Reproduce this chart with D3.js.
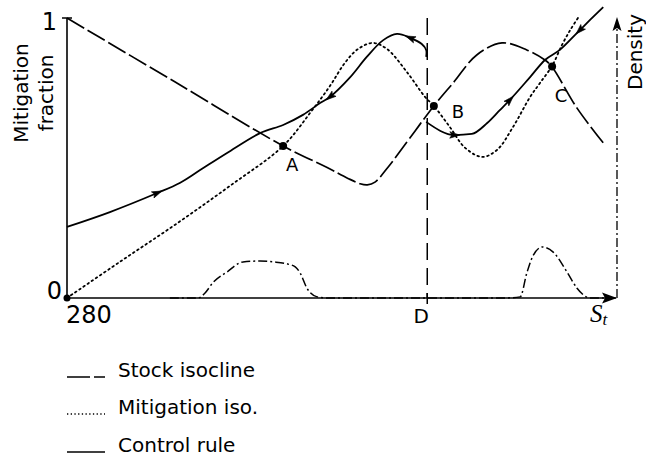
<!DOCTYPE html>
<html>
<head>
<meta charset="utf-8">
<script src="https://cdn.jsdelivr.net/npm/d3@7"></script>
<style>
  html, body { margin: 0; padding: 0; background: #fff; }
  svg { display: block; }
  text { font-family: "DejaVu Sans", sans-serif; fill: #000; }
</style>
</head>
<body>
<svg id="chart" width="646" height="458"></svg>
<script>
// Stock S on a 0–100 index (0 is the 280 origin), mitigation fraction 0–1.
const stockIsocline = [
  [0, 1], [19.6, 0.772], [39.3, 0.543], [47.3, 0.466], [51.0, 0.428],
  [53.3, 0.408], [54.6, 0.404], [56.0, 0.414], [58.4, 0.468], [61.8, 0.557], [64.2, 0.621],
  [66.7, 0.686], [70.2, 0.768], [74.5, 0.868], [79.1, 0.911], [83.6, 0.886],
  [86.9, 0.85], [88.2, 0.825], [92.7, 0.679], [97.5, 0.554]
];
const mitigationIsocline = [
  [0, 0], [9.6, 0.129], [19.6, 0.261], [29.6, 0.4], [39.3, 0.543],
  [44.2, 0.661], [47.8, 0.757], [50.5, 0.839], [52.9, 0.889], [55.6, 0.911],
  [58.2, 0.889], [61.8, 0.807], [65.1, 0.718], [66.7, 0.686], [69.6, 0.611],
  [72.4, 0.536], [75.5, 0.504], [78.2, 0.529], [81.1, 0.611], [84.2, 0.718],
  [86.0, 0.768], [88.2, 0.829], [90.0, 0.904], [91.5, 0.957], [92.9, 1.0]
];
// Control rule, branch below the threshold D
const controlRuleLow = [
  [0, 0.254], [7.8, 0.307], [16.4, 0.375], [20.5, 0.411], [24.2, 0.457],
  [29.1, 0.518], [35.1, 0.589], [39.3, 0.618], [42.9, 0.654], [46.0, 0.696],
  [47.8, 0.718], [51.5, 0.789], [54.5, 0.861], [57.5, 0.921], [60.0, 0.943],
  [62.4, 0.929], [64.5, 0.907], [65.3, 0.886], [65.3, 0.861]
];
// Control rule, branch above the threshold D
const controlRuleHigh = [
  [65.3, 0.629], [70.5, 0.582], [73.6, 0.586], [76.4, 0.625], [78.7, 0.671],
  [80.5, 0.707], [84.2, 0.789], [86.9, 0.85], [89.6, 0.886], [92.7, 0.946],
  [95.1, 0.993], [97.5, 1.039]
];
// Stationary density of S (right-hand axis)
const density = [
  [18.7, 0], [23.8, 0], [25.1, 0.018], [26.5, 0.054], [29.1, 0.093],
  [32.0, 0.129], [35.1, 0.132], [37.5, 0.129], [40.2, 0.121], [41.5, 0.111],
  [42.4, 0.089], [43.6, 0.036], [45.5, 0.004], [47.8, 0], [79.3, 0],
  [82.4, 0.004], [83.6, 0.089], [84.7, 0.15], [86.4, 0.182], [88.4, 0.164],
  [90.9, 0.093], [92.7, 0.036], [95.1, 0], [100, 0]
];
const equilibria = [
  { label: "A", s: 39.3, m: 0.543 },
  { label: "B", s: 66.7, m: 0.686 },
  { label: "C", s: 88.2, m: 0.827 }
];
// Direction of motion along the control rule: branch, S, fraction, +1 forward / -1 backward
const flowArrows = [
  ["low", 16.4, 0.375, 1], ["low", 47.8, 0.718, -1], ["low", 62.4, 0.929, -1],
  ["high", 70.5, 0.582, 1], ["high", 80.5, 0.707, 1], ["high", 93.3, 0.954, -1]
];
const thresholdS = 65.5;
const thresholdLabel = "D";
const yTickValues = [0, 1];
const yTickLabels = ["0", "1"];
const xOriginLabel = "280";
const legendItems = ["Stock isocline", "Mitigation iso.", "Control rule"];

const svg = d3.select("#chart");
const x = d3.scaleLinear().domain([0, 100]).range([67, 617]);
const y = d3.scaleLinear().domain([0, 1]).range([298, 18]);
const yDensity = d3.scaleLinear().domain([0, 1]).range([298, 18]);

const styles = {
  stock: { dash: "20,4", width: 1.7 },
  mitig: { dash: "1.6,3.4", width: 1.8 },
  control: { dash: null, width: 1.8 },
  density: { dash: "9,3,2,3", width: 1.5 }
};

const smooth = d3.line().x(d => x(d[0])).y(d => y(d[1])).curve(d3.curveCatmullRom.alpha(0.5));
const monotone = d3.line().x(d => x(d[0])).y(d => y(d[1])).curve(d3.curveMonotoneX);

// Axes
const ax = svg.append("g").attr("stroke", "#000").attr("fill", "none");
ax.append("line").attr("x1", x(0)).attr("x2", x(0)).attr("y1", y(1)).attr("y2", y(0)).attr("stroke-width", 1.6);
ax.append("line").attr("x1", x(0) - 5).attr("x2", x(0) + 5).attr("y1", y(1)).attr("y2", y(1)).attr("stroke-width", 1.5);
ax.append("line").attr("x1", x(0)).attr("x2", x(100) - 10).attr("y1", y(0)).attr("y2", y(0)).attr("stroke-width", 1.6);
svg.append("path")
  .attr("d", `M${x(100)},${y(0)} L${x(100) - 15},${y(0) - 5.5} L${x(100) - 12},${y(0)} L${x(100) - 15},${y(0) + 5.5} Z`)
  .attr("fill", "#000");
ax.append("line").attr("x1", x(thresholdS)).attr("x2", x(thresholdS)).attr("y1", y(0) - 5).attr("y2", y(0) + 6).attr("stroke-width", 1.5);

// Density axis on the right
ax.append("line").attr("x1", x(100)).attr("x2", x(100)).attr("y1", yDensity(0)).attr("y2", yDensity(1) + 10)
  .attr("stroke-width", 1.3).attr("stroke-dasharray", styles.density.dash);
svg.append("path")
  .attr("d", `M${x(100)},${yDensity(1) - 1} L${x(100) - 4.5},${yDensity(1) + 13} L${x(100)},${yDensity(1) + 10} L${x(100) + 4.5},${yDensity(1) + 13} Z`)
  .attr("fill", "#000");

// Threshold D
svg.append("line").attr("x1", x(thresholdS)).attr("x2", x(thresholdS)).attr("y1", y(1)).attr("y2", y(0))
  .attr("stroke", "#000").attr("stroke-width", 1.5).attr("stroke-dasharray", "17,8");

// Density curve
svg.append("path").datum(density)
  .attr("d", d3.line().x(d => x(d[0])).y(d => yDensity(d[1])).curve(d3.curveMonotoneX))
  .attr("fill", "none").attr("stroke", "#000").attr("stroke-width", styles.density.width)
  .attr("stroke-dasharray", styles.density.dash);

// Isoclines
svg.append("path").datum(stockIsocline).attr("d", smooth)
  .attr("fill", "none").attr("stroke", "#000").attr("stroke-width", styles.stock.width)
  .attr("stroke-dasharray", styles.stock.dash);
svg.append("path").datum(mitigationIsocline).attr("d", smooth)
  .attr("fill", "none").attr("stroke", "#000").attr("stroke-width", styles.mitig.width)
  .attr("stroke-linecap", "round").attr("stroke-dasharray", styles.mitig.dash);

// Control rule branches
const branches = {};
branches.low = svg.append("path").datum(controlRuleLow).attr("d", smooth)
  .attr("fill", "none").attr("stroke", "#000").attr("stroke-width", styles.control.width);
branches.high = svg.append("path").datum(controlRuleHigh).attr("d", monotone)
  .attr("fill", "none").attr("stroke", "#000").attr("stroke-width", styles.control.width);

// Flow arrowheads placed on the control rule, oriented along its tangent
flowArrows.forEach(([b, s, m, dir]) => {
  const node = branches[b].node();
  const total = node.getTotalLength();
  const tx = x(s), ty = y(m);
  let best = 0, bestD = Infinity;
  for (let l = 0; l <= total; l += 0.5) {
    const p = node.getPointAtLength(l);
    const d = (p.x - tx) ** 2 + (p.y - ty) ** 2;
    if (d < bestD) { bestD = d; best = l; }
  }
  const p0 = node.getPointAtLength(Math.max(0, best - 2));
  const p1 = node.getPointAtLength(Math.min(total, best + 2));
  const pc = node.getPointAtLength(best);
  let ang = Math.atan2(p1.y - p0.y, p1.x - p0.x) * 180 / Math.PI;
  if (dir < 0) ang += 180;
  svg.append("path")
    .attr("d", "M5,0 L-5,-3.3 L-3,0 L-5,3.3 Z")
    .attr("transform", `translate(${pc.x},${pc.y}) rotate(${ang})`)
    .attr("fill", "#000").attr("stroke", "#000").attr("stroke-width", 0.6);
});

// Equilibria
svg.selectAll("circle.eq").data(equilibria).join("circle")
  .attr("class", "eq").attr("cx", d => x(d.s)).attr("cy", d => y(d.m)).attr("r", 4).attr("fill", "#000");
svg.append("circle").attr("cx", x(0)).attr("cy", y(0)).attr("r", 3.5).attr("fill", "#000");
const eqOffsets = { A: [9, 25], B: [24, 12], C: [9, 36] };
svg.selectAll("text.eq").data(equilibria).join("text")
  .attr("class", "eq")
  .attr("x", d => x(d.s) + eqOffsets[d.label][0])
  .attr("y", d => y(d.m) + eqOffsets[d.label][1])
  .attr("text-anchor", "middle").attr("font-size", 18).text(d => d.label);

// Tick labels
svg.append("text").attr("x", 57).attr("y", y(yTickValues[1]) + 12).attr("text-anchor", "end")
  .attr("font-size", 24).text(yTickLabels[1]);
svg.append("text").attr("x", 62).attr("y", y(yTickValues[0]) + 1).attr("text-anchor", "end")
  .attr("font-size", 24).text(yTickLabels[0]);
svg.append("text").attr("x", x(0) - 1).attr("y", 323).attr("font-size", 24).text(xOriginLabel);
svg.append("text").attr("x", x(thresholdS) - 6).attr("y", 323).attr("text-anchor", "middle")
  .attr("font-size", 20).text(thresholdLabel);
const st = svg.append("text").attr("x", 590).attr("y", 322)
  .style("font-family", "'Liberation Serif', 'DejaVu Serif', serif").style("font-style", "italic")
  .attr("font-size", 25);
st.append("tspan").text("S");
st.append("tspan").attr("font-size", 17).attr("dy", 3).text("t");

// Axis titles
svg.append("text").attr("transform", "translate(28,93) rotate(-90)").attr("text-anchor", "middle")
  .attr("font-size", 20).text("Mitigation");
svg.append("text").attr("transform", "translate(53,93) rotate(-90)").attr("text-anchor", "middle")
  .attr("font-size", 20).text("fraction");
svg.append("text").attr("transform", "translate(642,52) rotate(-90)").attr("text-anchor", "middle")
  .attr("font-size", 20).text("Density");

// Legend
const legendRows = [377, 414, 452];
const legendStyles = [
  { dash: "23,4", width: 1.6 },
  { dash: "1.3,2.4", width: 1.5 },
  { dash: null, width: 1.6 }
];
legendItems.forEach((label, i) => {
  const g = svg.append("g");
  g.append("line").attr("x1", 67).attr("x2", 105).attr("y1", legendRows[i]).attr("y2", legendRows[i])
    .attr("stroke", "#000").attr("stroke-width", legendStyles[i].width)
    .attr("stroke-dasharray", legendStyles[i].dash);
  g.append("text").attr("x", 118).attr("y", legendRows[i]).attr("font-size", 20).text(label);
});
</script>
</body>
</html>
